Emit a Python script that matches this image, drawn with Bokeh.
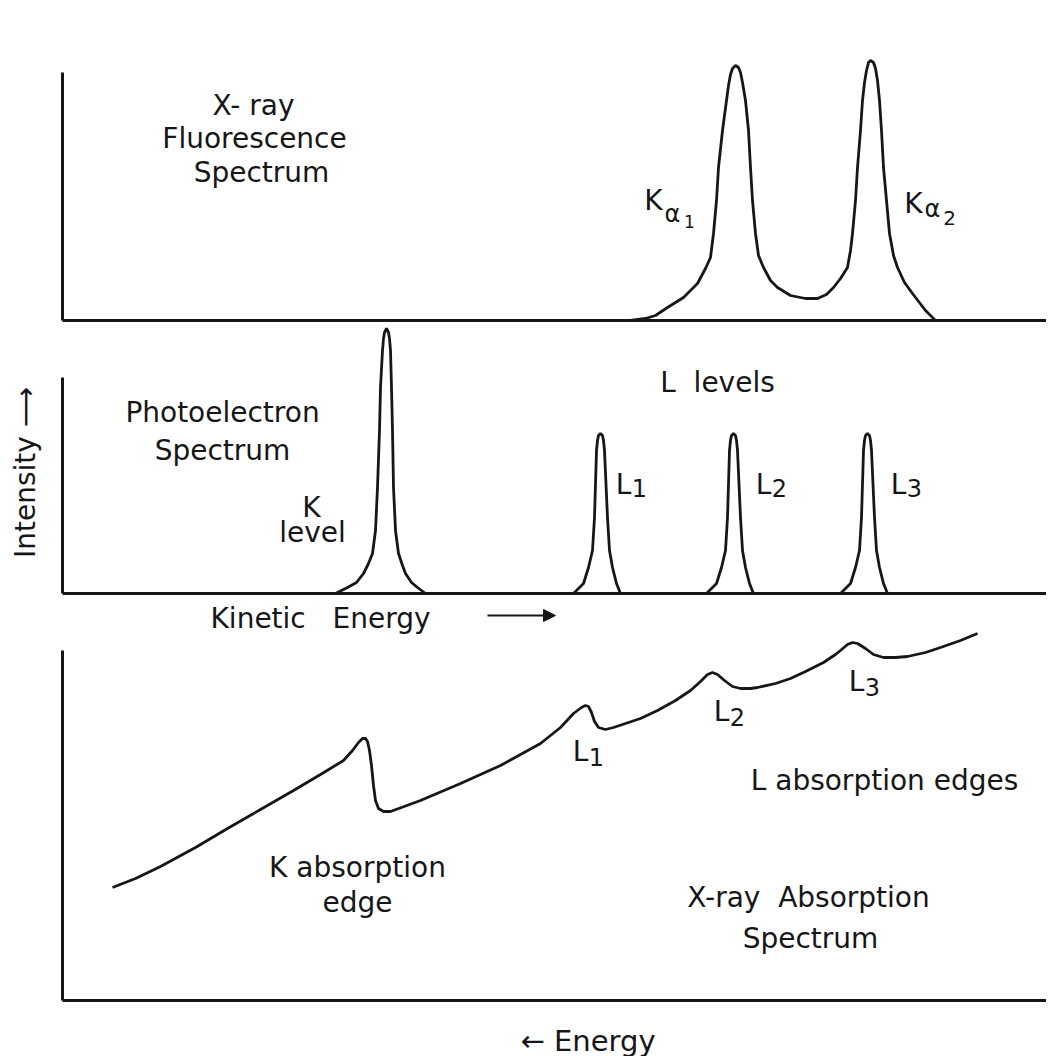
from bokeh.plotting import figure
from bokeh.layouts import column
from bokeh.models import Label, Range1d, FixedTicker, Arrow, NormalHead
from bokeh.embed import file_html
from bokeh.resources import INLINE
import math

INK = "#161616"
FONT = "DejaVu Sans"
FS = "28px"
NB = "\u00a0"

# ---------------- Data (energy and intensity in arbitrary units) ----------------
# X-ray fluorescence spectrum (K alpha1 / K alpha2 doublet)
fluor_energy = [568, 583, 593, 605, 621, 635, 643, 648, 651, 654, 656, 660, 664, 666, 668, 670, 673,
                676, 678, 680, 683, 686, 688, 690, 693, 696, 701, 708, 715, 728, 743, 755, 764,
                771, 778, 785, 788, 790, 793, 795, 798, 800, 802, 804, 806, 808, 811, 813, 815,
                817, 819, 821, 824, 827, 831, 835, 842, 850, 863, 873]
fluor_intensity = [0, 2, 5, 13, 23, 37, 52, 63, 87, 120, 153, 190, 220, 235, 246, 252, 255,
                   253, 248, 238, 220, 190, 153, 120, 87, 65, 53, 40, 33, 25, 22, 22, 26,
                   33, 42, 53, 70, 87, 120, 153, 190, 220, 238, 250, 258, 260, 258, 252, 240,
                   220, 190, 153, 120, 87, 65, 53, 38, 27, 10, 0]

# Photoelectron spectrum: K level and L1, L2, L3 levels
k_energy = [273, 285, 294, 301, 306, 310, 313, 315, 317, 318, 320, 321, 322, 324, 326, 327, 328,
            329, 330, 331, 333, 336, 340, 343, 349, 355, 363]
k_intensity = [0, 6, 11, 20, 30, 40, 63, 106, 163, 206, 243, 255, 261, 265, 261, 255, 243,
               206, 163, 106, 63, 40, 28, 20, 11, 6, 0]
l1_energy = [511, 521, 526, 530, 532, 534, 535, 536, 538, 540, 541, 542, 545, 547, 550, 554, 558]
l2_energy = [644, 654, 659, 663, 665, 667, 668, 669, 671, 673, 674, 675, 678, 680, 683, 687, 691]
l3_energy = [778, 788, 793, 797, 799, 801, 802, 803, 805, 807, 808, 809, 812, 814, 817, 821, 825]
l1_intensity = [0, 10, 26, 43, 76, 143, 153, 158, 160, 158, 153, 143, 76, 43, 26, 10, 0]
l2_intensity = [0, 10, 26, 43, 76, 143, 153, 158, 160, 158, 153, 143, 76, 43, 26, 10, 0]
l3_intensity = [0, 10, 26, 43, 76, 143, 153, 158, 160, 158, 153, 143, 76, 43, 26, 10, 0]

# X-ray absorption spectrum (K edge and L1, L2, L3 edges)
abs_energy = [50, 73, 98, 133, 165, 198, 231, 258, 281, 290, 296, 300, 303, 305, 307, 309, 311,
              313, 316, 321, 328, 358, 398, 438, 478, 498, 511, 519, 523, 526, 529, 532, 536,
              543, 551, 578, 595, 613, 628, 638, 645, 650, 655, 662, 670, 678, 688, 695, 713,
              728, 743, 761, 773, 778, 785, 790, 795, 803, 811, 821, 833, 845, 863, 878, 898, 915]
abs_value = [113, 122, 134, 153, 172, 191, 210, 226, 240, 250, 258, 262, 262, 259, 250, 235, 215,
             200, 192, 189, 189, 200, 217, 235, 257, 273, 287, 293, 295, 294, 288, 279, 273,
             271, 273, 282, 290, 300, 310, 319, 326, 328, 326, 320, 314, 312, 312, 313, 317,
             322, 329, 338, 346, 350, 356, 358, 357, 352, 346, 343, 343, 344, 348, 353, 360, 367]

X_LO, X_HI = -62, 984


def style(p, ybound):
    p.outline_line_color = None
    p.grid.visible = False
    p.background_fill_color = "white"
    p.border_fill_color = "white"
    for ax in p.axis:
        ax.ticker = FixedTicker(ticks=[])
        ax.major_tick_line_color = None
        ax.minor_tick_line_color = None
        ax.major_label_text_font_size = "0px"
        ax.major_label_standoff = 0
        ax.major_tick_out = 0
        ax.minor_tick_out = 0
        ax.axis_line_width = 3
        ax.axis_line_color = INK
        ax.fixed_location = 0
    p.xaxis.bounds = (0, X_HI)
    p.yaxis.bounds = (0, ybound)


def lab(p, x, y, text, size=FS, align="center", angle=0):
    p.add_layout(Label(x=x, y=y, text=text, text_font=FONT, text_font_size=size,
                       text_color=INK, text_align=align, text_baseline="middle", angle=angle))


def fig(h, ylo, yhi):
    return figure(width=1046, height=h, output_backend="svg", toolbar_location=None,
                  x_range=Range1d(X_LO, X_HI), y_range=Range1d(ylo, yhi),
                  min_border_left=0, min_border_right=0, min_border_top=0, min_border_bottom=0)


# ---------------- Panel 1: X-ray fluorescence ----------------
p1 = fig(322, -2, 320)
style(p1, 248)
p1.line(fluor_energy, fluor_intensity, line_width=2.8, line_color=INK)
lab(p1, 191, 215, "X- ray")
lab(p1, 192, 182, "Fluorescence")
lab(p1, 199, 148, "Spectrum")
lab(p1, 591, 120, "K")
lab(p1, 610, 107, "α", size="24px")
lab(p1, 627, 99, "1", size="17px")
lab(p1, 851, 117, "K")
lab(p1, 870, 112, "α", size="24px")
lab(p1, 887, 103, "2", size="20px")

# ---------------- Panel 2: photoelectron spectrum ----------------
p2 = fig(278, -7, 271)
style(p2, 216)
for xs, ys in [(k_energy, k_intensity), (l1_energy, l1_intensity),
               (l2_energy, l2_intensity), (l3_energy, l3_intensity)]:
    p2.line(xs, ys, line_width=2.8, line_color=INK)
lab(p2, 160, 181, "Photoelectron")
lab(p2, 160, 143, "Spectrum")
lab(p2, 249, 86, "K")
lab(p2, 250, 61, "level")
lab(p2, 655, 211, "L" + NB + NB + "levels")
for cx, sub in [(567, "1"), (707, "2"), (842, "3")]:
    lab(p2, cx - 6, 109, "L")
    lab(p2, cx + 10, 106, sub, size="24px")
lab(p2, -37, 121, "Intensity ⟶", angle=math.pi / 2)

# ---------------- Panel 3: X-ray absorption spectrum ----------------
p3 = fig(456, -56, 400)
style(p3, 350)
p3.line(abs_energy, abs_value, line_width=2.8, line_color=INK)
for cx, cy, sub in [(525, 247, "1"), (666, 287, "2"), (801, 317, "3")]:
    lab(p3, cx - 7, cy + 2, "L")
    lab(p3, cx + 9, cy - 3, sub, size="24px")
lab(p3, 822, 220, "L absorption edges")
lab(p3, 295, 133, "K absorption")
lab(p3, 295, 98, "edge")
lab(p3, 746, 103, "X-ray" + NB + NB + "Absorption")
lab(p3, 748, 62, "Spectrum")
lab(p3, 148, 382, "Kinetic" + NB + NB + NB + "Energy", size="28px", align="left")
p3.add_layout(Arrow(x_start=425, y_start=385, x_end=493, y_end=385, line_width=2,
                    line_color=INK,
                    end=NormalHead(size=12, fill_color=INK, line_color=INK)))
lab(p3, 458, -40, "←" + NB + "Energy", size="29px", align="left")

layout = column(p1, p2, p3, spacing=0)
open("out.html", "w").write(file_html(layout, INLINE))
